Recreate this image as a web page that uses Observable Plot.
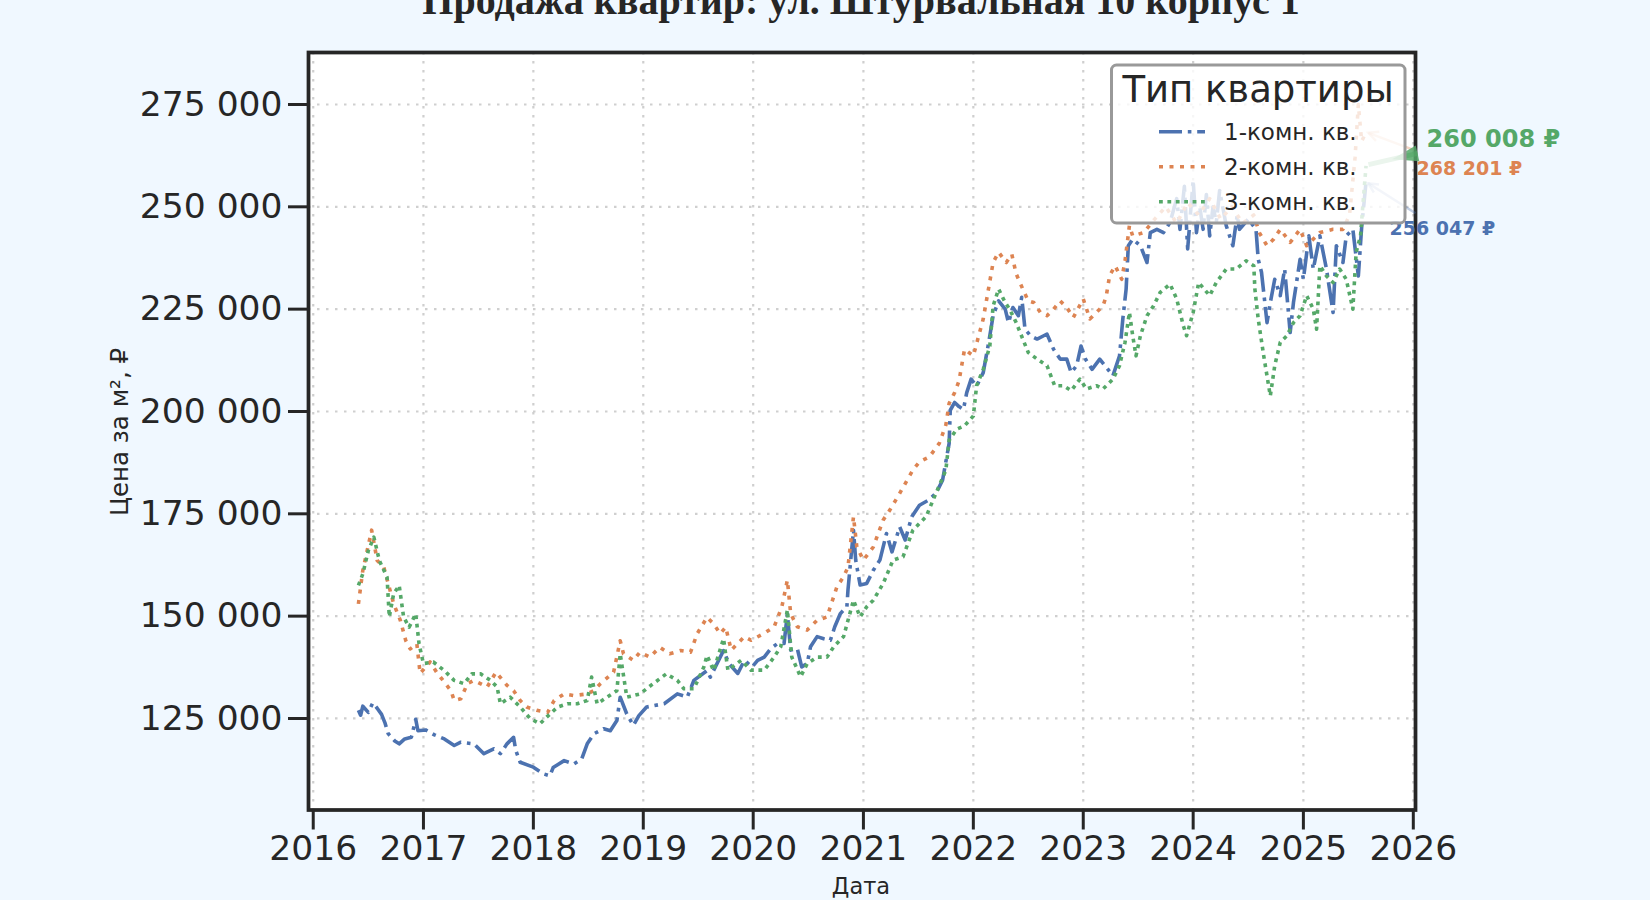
<!DOCTYPE html>
<html><head><meta charset="utf-8">
<script src="https://cdn.jsdelivr.net/npm/d3@7"></script>
<script src="https://cdn.jsdelivr.net/npm/@observablehq/plot@0.6"></script>
<style>
html,body{margin:0;padding:0;background:#F0F8FF;}
#chart{width:1650px;height:900px;overflow:hidden;position:relative;}
svg{display:block;}
</style></head><body><div id="chart"></div>
<script>
// ---------- data ----------
const chartTitle = "Продажа квартир: ул. Штурвальная 10 корпус 1";
const yLabel = "Цена за м², ₽";
const xLabel = "Дата";
const legendTitle = "Тип квартиры";
const seriesNames = ["1-комн. кв.", "2-комн. кв.", "3-комн. кв."];
const seriesColors = ["#4C72B0", "#DD8452", "#55A868"];
const yTicks = [125000, 150000, 175000, 200000, 225000, 250000, 275000];
const xTickYears = [2016, 2017, 2018, 2019, 2020, 2021, 2022, 2023, 2024, 2025, 2026];
const lastLabels = ["256 047 ₽", "268 201 ₽", "260 008 ₽"];

// [decimal year, price per m²]
const oneRoom = [
[2016.41,127000],[2016.43,125800],[2016.45,128000],[2016.50,126500],[2016.54,128800],[2016.58,127500],[2016.62,126000],[2016.65,124000],[2016.68,121300],[2016.74,119500],[2016.78,118800],[2016.83,120000],[2016.89,120400],[2016.93,124800],[2016.95,122000],
[2017.02,122200],[2017.10,121000],[2017.19,120000],[2017.28,118400],[2017.34,119200],[2017.46,118800],[2017.55,116400],[2017.64,117600],[2017.70,116400],[2017.76,118800],[2017.82,120400],[2017.84,117200],[2017.88,114300],
[2018.00,113100],[2018.09,111500],[2018.15,111000],[2018.18,113000],[2018.28,114700],[2018.37,113900],[2018.44,115100],[2018.49,118800],[2018.55,121250],[2018.64,122500],[2018.70,122000],[2018.76,124500],[2018.79,130200],[2018.85,126100],[2018.91,123300],[2018.96,125700],
[2019.03,127800],[2019.19,128600],[2019.31,131000],[2019.40,130200],[2019.46,134300],[2019.58,136700],[2019.61,135100],[2019.73,141600],[2019.78,138400],[2019.86,136000],[2019.92,139200],[2019.99,137600],
[2020.04,139200],[2020.10,140000],[2020.16,142100],[2020.22,143300],[2020.28,143300],[2020.31,150600],[2020.34,141700],[2020.40,142100],[2020.44,137600],[2020.49,138400],[2020.52,142500],[2020.58,145000],[2020.64,144500],[2020.70,144100],[2020.74,147400],[2020.79,150600],[2020.85,152300],[2020.86,156400],[2020.91,171000],[2020.93,163700],[2020.97,157600],
[2021.03,158000],[2021.09,161200],[2021.15,163700],[2021.21,170200],[2021.26,165700],[2021.33,171800],[2021.38,168600],[2021.44,174300],[2021.51,177100],[2021.59,178300],[2021.66,180000],[2021.72,183200],[2021.78,192200],[2021.79,200300],[2021.83,202200],[2021.87,201200],[2021.91,200500],[2021.94,204600],[2021.98,207900],
[2022.03,206200],[2022.09,209500],[2022.14,216900],[2022.18,223400],[2022.23,227000],[2022.29,225000],[2022.32,221700],[2022.36,225400],[2022.41,223400],[2022.44,227900],[2022.47,220100],[2022.52,218500],[2022.58,217700],[2022.64,218500],[2022.67,218900],[2022.73,215200],[2022.79,212800],[2022.85,212800],[2022.89,209500],[2022.94,211200],[2022.98,216000],
[2023.02,212800],[2023.08,210300],[2023.15,212800],[2023.21,210800],[2023.27,208700],[2023.33,213600],[2023.36,222600],[2023.39,229900],[2023.41,240500],[2023.45,242100],[2023.52,240500],[2023.58,236400],[2023.61,243700],[2023.67,244500],[2023.73,243700],[2023.79,246200],[2023.85,252000],[2023.88,244500],[2023.92,255000],[2023.95,239700],
[2024.00,256500],[2024.03,243700],[2024.06,250000],[2024.09,244500],[2024.12,253000],[2024.15,242900],[2024.18,250000],[2024.21,246200],[2024.24,254000],[2024.30,245400],[2024.36,240500],[2024.40,248000],[2024.42,244500],[2024.50,247000],[2024.57,244500],[2024.59,237200],[2024.62,234000],[2024.67,221700],[2024.70,226600],[2024.74,232300],[2024.79,228300],[2024.83,234800],[2024.88,219300],[2024.91,226600],[2024.97,237200],
[2025.00,232300],[2025.05,242900],[2025.09,234800],[2025.15,242900],[2025.21,234800],[2025.27,224200],[2025.30,240500],[2025.36,236400],[2025.39,242900],[2025.45,244500],[2025.50,233100],[2025.53,245000],[2025.57,256047]
];
const twoRoom = [
[2016.41,153000],[2016.45,161200],[2016.53,171000],[2016.58,163600],[2016.64,162000],[2016.73,153000],[2016.79,149000],[2016.84,144000],[2016.88,142000],[2016.94,143250],[2016.97,136000],
[2017.06,138800],[2017.12,136300],[2017.25,131800],[2017.28,129400],[2017.34,129800],[2017.40,133500],[2017.46,134300],[2017.58,132700],[2017.66,136300],[2017.76,133100],[2017.82,131800],[2017.88,129400],[2017.94,127800],
[2018.03,127000],[2018.13,126500],[2018.19,129400],[2018.28,131000],[2018.37,130600],[2018.49,131000],[2018.55,131800],[2018.61,133500],[2018.73,136300],[2018.79,144000],[2018.82,140800],[2018.91,139200],[2018.97,141200],
[2019.06,140000],[2019.15,142400],[2019.24,140800],[2019.34,141600],[2019.43,141200],[2019.49,145700],[2019.58,149700],[2019.64,148100],[2019.70,145700],[2019.75,147300],[2019.80,141700],[2019.92,145000],[2019.98,144100],
[2020.10,145800],[2020.19,147400],[2020.26,152300],[2020.31,158800],[2020.34,150600],[2020.40,147400],[2020.49,146600],[2020.58,149000],[2020.67,149800],[2020.76,157200],[2020.82,159600],[2020.86,162000],[2020.91,174300],[2020.94,166900],
[2021.00,163700],[2021.09,166900],[2021.18,173500],[2021.24,175900],[2021.33,180000],[2021.45,185700],[2021.51,187700],[2021.60,188900],[2021.69,192200],[2021.75,196700],[2021.78,202000],[2021.83,204600],[2021.87,207500],[2021.92,215200],
[2022.00,213600],[2022.09,222600],[2022.18,236400],[2022.23,238900],[2022.30,236400],[2022.35,238400],[2022.39,233600],[2022.45,229900],[2022.50,227000],[2022.55,226600],[2022.61,224200],[2022.67,223400],[2022.73,225000],[2022.79,227000],[2022.85,225400],[2022.91,223000],
[2023.00,227500],[2023.06,222600],[2023.12,224200],[2023.18,225800],[2023.21,228300],[2023.24,233200],[2023.29,235600],[2023.35,232300],[2023.38,236800],[2023.42,245400],[2023.45,242900],[2023.55,243700],[2023.65,247000],[2023.75,250000],[2023.85,246000],[2023.95,251000],
[2024.05,248000],[2024.15,252000],[2024.25,247000],[2024.35,250000],[2024.45,246000],[2024.55,248000],[2024.60,243700],[2024.67,240500],[2024.73,242100],[2024.79,244500],[2024.88,241300],[2024.97,244500],
[2025.03,240500],[2025.15,243700],[2025.27,244500],[2025.36,244500],[2025.42,248000],[2025.47,262000],[2025.50,275000],[2025.53,266000],[2025.57,268201]
];
const threeRoom = [
[2016.41,157500],[2016.45,160350],[2016.50,166000],[2016.55,169300],[2016.60,163600],[2016.67,159500],[2016.69,149800],[2016.73,155500],[2016.78,157500],[2016.82,149800],[2016.87,147300],[2016.93,150600],[2016.96,143250],
[2017.00,138400],[2017.09,138800],[2017.19,136700],[2017.28,134300],[2017.37,133500],[2017.44,135900],[2017.52,135900],[2017.61,134300],[2017.67,132700],[2017.70,128600],[2017.79,130200],[2017.88,127800],[2017.97,125000],
[2018.06,123700],[2018.12,125300],[2018.22,127800],[2018.31,128600],[2018.40,128600],[2018.49,129400],[2018.53,135100],[2018.58,128600],[2018.67,130200],[2018.76,131800],[2018.79,140800],[2018.85,130200],[2018.97,131000],
[2019.09,133500],[2019.21,135900],[2019.31,134300],[2019.37,132250],[2019.46,132250],[2019.55,137500],[2019.58,140400],[2019.64,136700],[2019.73,144500],[2019.77,136800],[2019.89,139200],[2019.98,136800],
[2020.10,136800],[2020.19,140000],[2020.25,142500],[2020.31,151500],[2020.35,140000],[2020.43,135200],[2020.49,138400],[2020.58,140000],[2020.67,140000],[2020.73,142500],[2020.82,145000],[2020.91,153900],[2020.97,149800],
[2021.03,152300],[2021.09,153900],[2021.18,158000],[2021.27,163700],[2021.36,164500],[2021.45,171000],[2021.57,174300],[2021.66,180000],[2021.75,185700],[2021.78,193000],[2021.85,195700],[2021.92,196500],
[2022.00,198900],[2022.03,206300],[2022.09,210300],[2022.15,216000],[2022.18,225800],[2022.23,229900],[2022.29,226600],[2022.33,225000],[2022.39,221700],[2022.45,217700],[2022.50,214400],[2022.58,212800],[2022.67,211200],[2022.74,206300],[2022.82,206300],[2022.89,205100],[2022.97,207900],
[2023.03,205500],[2023.12,206300],[2023.18,205500],[2023.27,207900],[2023.33,211200],[2023.38,216900],[2023.42,224200],[2023.45,218500],[2023.48,213600],[2023.52,218500],[2023.58,223400],[2023.64,225800],[2023.70,229100],[2023.79,231100],[2023.85,227500],[2023.91,221000],[2023.94,218500],
[2024.00,224200],[2024.05,231500],[2024.15,228300],[2024.21,231500],[2024.30,234800],[2024.39,234800],[2024.48,236800],[2024.55,235600],[2024.56,229900],[2024.59,222600],[2024.64,213600],[2024.67,208700],[2024.70,203800],[2024.74,211200],[2024.79,216900],[2024.85,218500],[2024.91,221700],[2024.97,223400],
[2025.03,228300],[2025.09,225000],[2025.12,220100],[2025.15,235600],[2025.21,233100],[2025.27,231500],[2025.33,234800],[2025.39,232300],[2025.45,225000],[2025.48,238900],[2025.52,242900],[2025.54,250000],[2025.57,260008]
];

// ---------- helpers ----------
const toDate = y => { const yr = Math.floor(y); const a = Date.UTC(yr,0,1), b = Date.UTC(yr+1,0,1); return new Date(a + (y-yr)*(b-a)); };
const allSeries = [oneRoom, twoRoom, threeRoom];
const rows = allSeries.map((s, i) => s.map(([t, v]) => ({date: toDate(t), price: v, type: seriesNames[i]})));
const dashes = ["23,5.8,3.6,5.8", "4,6.5", "3.8,4.6"];
const lw = 3.6;
const fmt = d => d3.format(",")(d).replace(/,/g, " ");
const xTicks = xTickYears.map(y => toDate(y));
const gridStyle = {stroke: "#cfcfcf", strokeOpacity: 1, strokeWidth: 2.2, strokeDasharray: "2.5,6.5"};

const plot = Plot.plot({
  width: 1650, height: 900,
  marginLeft: 308, marginRight: 235, marginTop: 52, marginBottom: 90.5,
  style: {background: "transparent", fontFamily: "DejaVu Sans", color: "#262626", overflow: "visible"},
  x: {type: "utc", domain: [toDate(2015.957), toDate(2026.02)]},
  y: {domain: [102640, 287700]},
  marks: [
    Plot.frame({fill: "white", stroke: null}),
    Plot.gridX(xTicks, gridStyle),
    Plot.gridY(yTicks, gridStyle),
    ...rows.map((r, i) => Plot.line(r, {x: "date", y: "price", stroke: seriesColors[i], strokeWidth: lw, strokeDasharray: dashes[i], strokeLinecap: "butt", strokeLinejoin: "round"})),
    Plot.frame({stroke: "#262626", strokeWidth: 3.75}),
    Plot.axisX(xTicks, {tickSize: 20, tickPadding: 5.5, tickFormat: "%Y", fontSize: 34.5, label: null, strokeWidth: 3, stroke: "#262626", fill: "#262626"}),
    Plot.axisY(yTicks, {tickSize: 20, tickPadding: 6, tickFormat: fmt, fontSize: 34.5, label: null, strokeWidth: 3, stroke: "#262626", fill: "#262626"})
  ]
});
document.getElementById("chart").appendChild(plot);

const svg = d3.select(plot);
const xs = plot.scale("x"), ys = plot.scale("y");

// title & axis labels
svg.append("text").attr("x", 861).attr("y", 14).attr("text-anchor", "middle")
  .attr("font-family", "Liberation Serif").attr("font-weight", "bold").attr("font-size", 40).attr("fill", "#262626").text(chartTitle);
svg.append("text").attr("transform", "translate(128,432) rotate(-90)").attr("text-anchor", "middle")
  .attr("font-family", "DejaVu Sans").attr("font-size", 24.5).attr("fill", "#262626").text(yLabel);
svg.append("text").attr("x", 861).attr("y", 894).attr("text-anchor", "middle")
  .attr("font-family", "DejaVu Sans").attr("font-size", 22.5).attr("fill", "#262626").text(xLabel);

// annotations of last values
const ann = [
  {dx: 24, dy: 53.4, size: 19, tx: 50, ty: 31.7, op: 0.35, w: 2.5, head: "open"},
  {dx: 51, dy: 43.2, size: 19, tx: 48, ty: 18, op: 0.35, w: 2.5, head: "open"},
  {dx: 61, dy: -18.7, size: 24, tx: 52, ty: -12, op: 0.6, w: 5, head: "wedge"}
];
const ag = svg.append("g");
allSeries.forEach((s, i) => {
  const [t, v] = s[s.length - 1];
  const px = xs.apply(toDate(t)), py = ys.apply(v);
  const a = ann[i], c = seriesColors[i];
  const x0 = px + a.tx, y0 = py + a.ty;
  const ang = Math.atan2(py - y0, px - x0);
  const x1 = px - 3 * Math.cos(ang), y1 = py - 3 * Math.sin(ang);
  ag.append("line").attr("x1", x0).attr("y1", y0).attr("x2", x1).attr("y2", y1)
    .attr("stroke", c).attr("stroke-width", a.w).attr("stroke-opacity", a.op);
  if (a.head === "open") {
    const L = 11, sp = 0.45;
    const p1 = [x1 - L * Math.cos(ang - sp), y1 - L * Math.sin(ang - sp)];
    const p2 = [x1 - L * Math.cos(ang + sp), y1 - L * Math.sin(ang + sp)];
    ag.append("path").attr("d", `M${p1}L${x1},${y1}L${p2}`).attr("fill", "none")
      .attr("stroke", c).attr("stroke-width", a.w).attr("stroke-opacity", a.op);
  } else {
    const L = 26, W = 8;
    const nx = -Math.sin(ang), ny = Math.cos(ang);
    const tipx = x0 + L * Math.cos(ang), tipy = y0 + L * Math.sin(ang);
    ag.append("path").attr("d", `M${x0 + W * nx},${y0 + W * ny}L${tipx},${tipy}L${x0 - W * nx},${y0 - W * ny}Z`)
      .attr("fill", c).attr("fill-opacity", 0.85);
  }
  ag.append("text").attr("x", px + a.dx).attr("y", py + a.dy).attr("text-anchor", "start")
    .attr("font-family", "DejaVu Sans").attr("font-weight", "bold").attr("font-size", a.size)
    .attr("fill", c).text(lastLabels[i]);
});

// legend
const lg = svg.append("g");
lg.append("rect").attr("x", 1111.5).attr("y", 65).attr("width", 293.5).attr("height", 158).attr("rx", 5)
  .attr("fill", "white").attr("fill-opacity", 0.8).attr("stroke", "#999").attr("stroke-width", 3);
lg.append("text").attr("x", 1258).attr("y", 101.5).attr("text-anchor", "middle")
  .attr("font-family", "DejaVu Sans").attr("font-size", 37).attr("fill", "#262626").text(legendTitle);
seriesNames.forEach((n, i) => {
  const cy = 131.7 + i * 35;
  lg.append("line").attr("x1", 1159).attr("x2", 1205).attr("y1", cy).attr("y2", cy)
    .attr("stroke", seriesColors[i]).attr("stroke-width", lw).attr("stroke-dasharray", dashes[i]);
  lg.append("text").attr("x", 1224).attr("y", cy).attr("dy", "0.36em").attr("text-anchor", "start")
    .attr("font-family", "DejaVu Sans").attr("font-size", 23).attr("fill", "#262626").text(n);
});
</script></body></html>
